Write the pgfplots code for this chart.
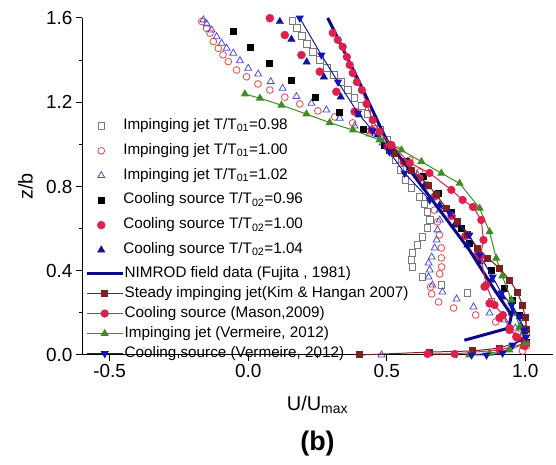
\documentclass[border=0pt]{standalone}
\usepackage{pgfplots}
\pgfplotsset{compat=1.18}
\usepackage{fontspec}
\setmainfont{Liberation Sans}
\definecolor{cgray}{HTML}{7A7A7A}
\definecolor{copenred}{HTML}{F04545}
\definecolor{copenblue}{HTML}{4A4AD8}
\definecolor{ccrimson}{HTML}{E0204C}
\definecolor{cnavy}{HTML}{14149A}
\definecolor{cnimrod}{HTML}{0A0A88}
\definecolor{cmaroon}{HTML}{7A2222}
\definecolor{cgreen}{HTML}{3F8C22}
\definecolor{cblue}{HTML}{1414B4}
\begin{document}
\begin{tikzpicture}[x=1bp,y=1bp]
\path (-82,-110) rectangle (474,355);
\begin{axis}[
  at={(0,0)}, anchor=south west,
  scale only axis, width=471bp, height=337bp,
  xmin=-0.6, xmax=1.1, ymin=0, ymax=1.6,
  clip=false,
  axis x line*=bottom, axis y line*=left,
  axis line style={line width=1bp},
  xtick={-0.5,0,0.5,1}, ytick={0,0.4,0.8,1.2,1.6},
  minor xtick={-0.25,0.25,0.75}, minor ytick={0.2,0.6,1.0,1.4},
  tick align=outside, major tick length=6bp, minor tick length=3.5bp,
  tick style={line width=1bp, black},
  /pgf/number format/assume math mode=true,
  xticklabel style={/pgf/number format/.cd, fixed, fixed zerofill, precision=1},
  yticklabel style={/pgf/number format/.cd, fixed, fixed zerofill, precision=1},
  tick label style={font=\fontsize{19}{22}\selectfont},
  every axis x label/.style={at={(axis description cs:0.5,-0.122)}, anchor=north, inner sep=0pt, font=\fontsize{20}{24}\selectfont},
  every axis y label/.style={at={(axis description cs:-0.12,0.5)}, rotate=90, anchor=center, font=\fontsize{20}{24}\selectfont},
  xlabel={U/U\textsubscript{max}}, ylabel={z/b},
  legend style={at={(0.032,0.717)}, anchor=north west, draw=none, fill=none, inner sep=0pt,
    font=\fontsize{15.3}{18}\selectfont, column sep=16bp, row sep=0pt,
    nodes={inner xsep=2bp, inner ysep=4.9bp, text height=11bp, text depth=4bp}},
  legend cell align=left,
]
% Impinging jet T/T01=0.98
\addplot[only marks, mark=square, mark size=3.2bp, draw=cgray, line width=0.8bp] coordinates {
(0.160,1.587) (0.175,1.553) (0.193,1.515) (0.211,1.477) (0.233,1.439) (0.258,1.401)
(0.284,1.363) (0.309,1.330) (0.334,1.296) (0.359,1.258) (0.384,1.220) (0.410,1.182)
(0.431,1.144) (0.456,1.106) (0.478,1.068) (0.500,1.021) (0.518,0.973) (0.532,0.926)
(0.550,0.878) (0.568,0.831) (0.589,0.793) (0.618,0.750) (0.636,0.717) (0.647,0.679)
(0.655,0.641) (0.647,0.603) (0.629,0.560) (0.611,0.522) (0.593,0.484) (0.589,0.451)
(0.592,0.418) (0.629,0.370) (0.698,0.332) (0.791,0.294) (0.878,0.252) (0.950,0.204)
(0.993,0.157) (1.004,0.109) (0.997,0.062)};
\addlegendentry{Impinging jet T/T\textsubscript{01}=0.98}
% Impinging jet T/T01=1.00
\addplot[only marks, mark=o, mark size=3.4bp, draw=copenred, line width=0.8bp] coordinates {
(-0.168,1.583) (-0.150,1.551) (-0.138,1.528) (-0.126,1.488) (-0.108,1.456) (-0.091,1.425)
(-0.072,1.393) (-0.042,1.353) (-0.006,1.321) (0.035,1.287) (0.078,1.258) (0.132,1.224)
(0.186,1.192) (0.251,1.159) (0.312,1.130) (0.377,1.102) (0.438,1.064) (0.492,1.021)
(0.539,0.973) (0.583,0.926) (0.618,0.869) (0.647,0.807) (0.661,0.745) (0.672,0.688)
(0.683,0.632) (0.690,0.570) (0.697,0.508) (0.697,0.461) (0.698,0.418) (0.691,0.385)
(0.658,0.323) (0.662,0.290) (0.687,0.252) (0.741,0.223) (0.821,0.190) (0.893,0.157)
(0.943,0.128) (0.972,0.100) (0.993,0.071) (1.004,0.043) (0.990,0.019)};
\addlegendentry{Impinging jet T/T\textsubscript{01}=1.00}
% Impinging jet T/T01=1.02
\addplot[only marks, mark=triangle, mark size=4bp, draw=copenblue, line width=0.8bp] coordinates {
(-0.162,1.591) (-0.150,1.572) (-0.132,1.543) (-0.114,1.511) (-0.096,1.480) (-0.078,1.456)
(-0.054,1.433) (-0.030,1.397) (0.000,1.361) (0.036,1.334) (0.081,1.298) (0.124,1.266)
(0.174,1.227) (0.228,1.195) (0.282,1.163) (0.330,1.124) (0.384,1.087) (0.438,1.049)
(0.485,1.007) (0.532,0.959) (0.575,0.912) (0.611,0.855) (0.640,0.798) (0.665,0.745)
(0.691,0.688) (0.691,0.641) (0.683,0.594) (0.680,0.546) (0.673,0.508) (0.662,0.465)
(0.651,0.437) (0.655,0.404) (0.651,0.370) (0.665,0.332) (0.701,0.299) (0.752,0.266)
(0.813,0.228) (0.871,0.199) (0.925,0.166) (0.964,0.128) (0.986,0.085) (0.993,0.043)
(0.481,0.000)};
\addlegendentry{Impinging jet T/T\textsubscript{01}=1.02}
% Cooling source T/T02=0.96
\addplot[only marks, mark=square*, mark size=3bp, black] coordinates {
(-0.054,1.535) (0.006,1.460) (0.076,1.383) (0.155,1.304) (0.240,1.225) (0.330,1.151)
(0.414,1.073) (0.492,0.997) (0.571,0.918) (0.630,0.847) (0.684,0.768) (0.734,0.679)
(0.770,0.603) (0.798,0.532) (0.835,0.475) (0.878,0.404) (0.925,0.318) (0.954,0.261)
(0.979,0.190) (0.997,0.119) (1.004,0.062)};
\addlegendentry{Cooling source T/T\textsubscript{02}=0.96}
% Cooling source T/T02=1.00
\addplot[only marks, mark=*, mark size=4bp, ccrimson] coordinates {
(0.078,1.599) (0.132,1.519) (0.192,1.424) (0.258,1.345) (0.318,1.250) (0.384,1.155)
(0.446,1.068) (0.503,0.988) (0.561,0.916) (0.618,0.840) (0.676,0.755) (0.734,0.660)
(0.784,0.565) (0.824,0.470) (0.853,0.324) (0.871,0.245) (0.907,0.176) (0.943,0.119)
(0.972,0.081) (0.997,0.043)};
\addlegendentry{Cooling source T/T\textsubscript{02}=1.00}
% Cooling source T/T02=1.04
\addplot[only marks, mark=triangle*, mark size=4.3bp, cnavy] coordinates {
(0.114,1.583) (0.156,1.499) (0.211,1.391) (0.273,1.320) (0.334,1.225) (0.399,1.140)
(0.467,1.045) (0.528,0.964) (0.583,0.888) (0.637,0.807) (0.691,0.712) (0.745,0.617)
(0.791,0.522) (0.835,0.442) (0.878,0.356) (0.918,0.275) (0.954,0.204) (0.982,0.133)
(1.000,0.071)};
\addlegendentry{Cooling source T/T\textsubscript{02}=1.04}
\node[font=\bfseries\fontsize{27}{30}\selectfont] at (axis description cs:0.5,-0.262) {(b)};
\end{axis}
\begin{axis}[
  at={(0,0)}, anchor=south west,
  scale only axis, width=471bp, height=337bp,
  xmin=-0.6, xmax=1.1, ymin=0, ymax=1.6,
  clip=false, hide axis,
  legend style={at={(0.0064,0.272)}, anchor=north west, draw=none, fill=none, inner sep=0pt,
    font=\fontsize{15.3}{18}\selectfont, column sep=0bp, row sep=0pt,
    nodes={inner xsep=0.5bp, inner ysep=2.5bp, text height=11bp, text depth=4bp}},
  legend cell align=left,
  legend image code/.code={\draw[mark repeat=2,mark phase=2,#1] plot coordinates {(0bp,0bp) (18bp,0bp) (36bp,0bp)};},
]
% NIMROD
\addplot[cnimrod, line width=3bp, no marks] coordinates {
(0.287,1.600) (0.305,1.553) (0.402,1.292) (0.499,1.021) (0.583,0.878) (0.691,0.688)
(0.798,0.499) (0.889,0.309) (0.950,0.190) (0.940,0.128) (0.780,0.070)};
\addlegendentry{NIMROD field data (Fujita , 1981)}
% Kim & Hangan
\addplot[cmaroon, line width=1bp, mark=square*, mark size=3bp] coordinates {
(0.510,0.973) (0.528,0.959) (0.589,0.878) (0.649,0.807) (0.679,0.760) (0.715,0.697)
(0.756,0.633) (0.793,0.570) (0.829,0.507) (0.865,0.459) (0.907,0.413) (0.943,0.356)
(0.971,0.299) (0.990,0.237) (1.000,0.176) (1.004,0.119) (0.997,0.071) (0.907,0.033)
(0.810,0.019) (0.655,0.014) (0.402,0.000)};
\addlegendentry{Steady impinging jet(Kim \& Hangan 2007)}
% Mason
\addplot[ccrimson, line width=1bp, mark=*, mark size=3.6bp] coordinates {
(0.305,1.529) (0.323,1.496) (0.341,1.463) (0.356,1.415) (0.366,1.377) (0.377,1.339)
(0.392,1.296) (0.410,1.258) (0.427,1.192) (0.449,1.116) (0.474,1.059) (0.517,0.997)
(0.583,0.912) (0.654,0.864) (0.733,0.784) (0.774,0.736) (0.811,0.703) (0.841,0.641)
(0.849,0.546) (0.838,0.470) (0.859,0.332) (0.889,0.237) (0.919,0.190) (0.943,0.128)
(0.967,0.087) (1.003,0.056) (0.907,0.024) (0.745,0.005) (0.647,0.005)};
\addlegendentry{Cooling source (Mason,2009)}
% Vermeire impinging jet
\addplot[cgreen, line width=1bp, mark=triangle*, mark size=3.8bp] coordinates {
(-0.012,1.239) (0.042,1.219) (0.120,1.186) (0.210,1.144) (0.294,1.103) (0.378,1.068)
(0.474,1.021) (0.553,0.973) (0.625,0.918) (0.697,0.863) (0.763,0.815) (0.835,0.697)
(0.871,0.585) (0.895,0.459) (0.917,0.375) (0.950,0.261) (0.979,0.133) (1.003,0.056)
(0.942,0.024) (0.871,0.009) (0.798,0.000)};
\addlegendentry{Impinging jet (Vermeire, 2012)}
% Vermeire cooling source
\addplot[cblue, line width=1bp, mark=triangle*, mark size=3.8bp, mark options={rotate=180}] coordinates {
(0.186,1.600) (0.264,1.424) (0.324,1.296) (0.396,1.149) (0.449,1.064) (0.510,0.964)
(0.564,0.864) (0.655,0.736) (0.727,0.674) (0.798,0.570) (0.835,0.475) (0.882,0.370)
(0.914,0.294) (0.950,0.237) (0.979,0.180) (0.997,0.119) (1.003,0.085) (0.954,0.047)
(0.918,0.009) (0.860,0.000) (0.806,0.000)};
\addlegendentry{Cooling source (Vermeire, 2012)}
\end{axis}
\end{tikzpicture}
\end{document}
